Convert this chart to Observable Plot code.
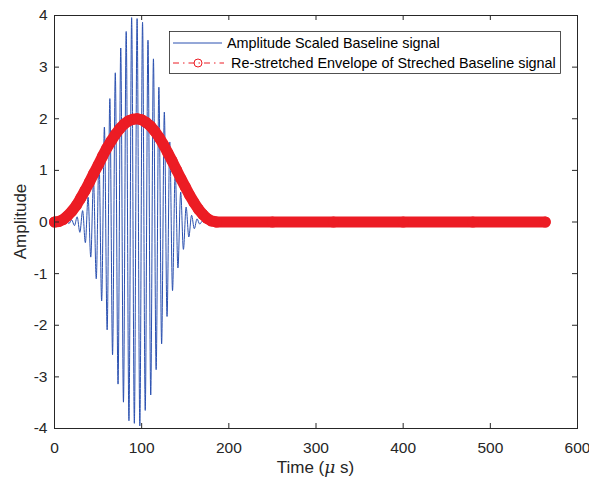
<!DOCTYPE html>
<html>
<head>
<meta charset="utf-8">
<script src="https://cdn.jsdelivr.net/npm/d3@7"></script>
<script src="https://cdn.jsdelivr.net/npm/@observablehq/plot@0.6"></script>
<style>
  html, body { margin: 0; padding: 0; background: #ffffff; }
  #chart { width: 589px; height: 480px; }
</style>
</head>
<body>
<div id="chart"></div>
<script>
// ---- Data ----
const xTicks = [0, 100, 200, 300, 400, 500, 600];
const yTicks = [-4, -3, -2, -1, 0, 1, 2, 3, 4];

// Amplitude Scaled Baseline signal: successive extrema (µs, amplitude)
const signalTime = [0, 10.4, 13.5, 16.6, 19.75, 22.9, 26, 29.1, 32.25, 35.4, 38.5, 41.6, 44.75, 47.9, 51, 54.1,
  57.25, 60.4, 63.5, 66.6, 69.75, 72.9, 76, 79.1, 82.25, 85.4, 88.5, 91.6, 94.75, 97.9, 101, 104.1,
  107.25, 110.4, 113.5, 116.6, 119.75, 122.9, 126, 129.1, 132.25, 135.4, 138.5, 141.6, 144.75, 147.9,
  151, 154.1, 157.25, 160.4, 163.5, 166.6, 169.75, 172.9, 176, 182, 563];
const signalAmp = [0, 0, 0.02, -0.03, 0.04, -0.07, 0.10, -0.20, 0.22, -0.40, 0.48, -0.68, 0.80, -1.10, 1.26, -1.53,
  1.84, -2.09, 2.39, -2.57, 2.89, -3.14, 3.37, -3.49, 3.69, -3.85, 3.96, -3.90, 3.94, -3.95, 3.87, -3.65,
  3.52, -3.35, 3.16, -2.86, 2.61, -2.36, 2.13, -1.83, 1.55, -1.33, 1.00, -0.89, 0.58, -0.53,
  0.29, -0.29, 0.13, -0.13, 0.06, -0.04, 0.02, -0.01, 0.01, 0, 0];

// Re-stretched Envelope of Streched Baseline signal (µs, amplitude)
const envTime = [0, 5, 10, 15, 20, 25, 30, 35, 40, 45, 50, 55, 60, 65, 70, 75, 80, 85, 90, 95,
  100, 105, 110, 115, 120, 125, 130, 135, 140, 145, 150, 155, 160, 165, 170, 175, 180, 186,
  250, 320, 400, 480, 563];
const envAmp = [0, 0.01, 0.05, 0.12, 0.21, 0.32, 0.46, 0.61, 0.77, 0.94, 1.10, 1.27, 1.43, 1.57, 1.70, 1.81, 1.90, 1.96, 1.99, 2.00,
  1.98, 1.93, 1.86, 1.76, 1.64, 1.50, 1.34, 1.18, 1.01, 0.84, 0.68, 0.52, 0.38, 0.25, 0.15, 0.07, 0.02, 0,
  0, 0, 0, 0, 0];

const seriesNames = ["Amplitude Scaled Baseline signal", "Re-stretched Envelope of Streched Baseline signal"];

const signal = signalTime.map((t, i) => ({t, a: signalAmp[i]}));
const envelope = envTime.map((t, i) => ({t, a: envAmp[i]}));

const BLUE = "#2a50b0";
const RED = "#ec1c24";
const INK = "#262626";
const W = 589, H = 480;
const mL = 54, mR = 12, mT = 15, mB = 52;
const frameW = W - mL - mR, frameH = H - mT - mB;
const TICK = 5;

const svg = Plot.plot({
  width: W, height: H,
  marginLeft: mL, marginRight: mR, marginTop: mT, marginBottom: mB,
  style: {fontFamily: "'Liberation Sans', Arial, Helvetica, sans-serif", fontSize: "15.5px", color: INK, background: "#ffffff"},
  x: {domain: [0, 600], ticks: xTicks},
  y: {domain: [-4, 4], ticks: yTicks},
  marks: [
    Plot.line(signal, {x: "t", y: "a", stroke: BLUE, strokeWidth: 1, curve: "monotone-x"}),
    Plot.line(envelope, {x: "t", y: "a", stroke: RED, strokeWidth: 11, strokeLinecap: "round", strokeLinejoin: "round"}),
    Plot.dot(envelope, {x: "t", y: "a", r: 5.5, fill: RED, stroke: RED, strokeWidth: 0}),
    Plot.frame({stroke: INK, strokeWidth: 1}),
    Plot.tickX(xTicks, {x: d => d, stroke: INK, insetTop: frameH - TICK}),
    Plot.tickX(xTicks, {x: d => d, stroke: INK, insetBottom: frameH - TICK}),
    Plot.tickY(yTicks, {y: d => d, stroke: INK, insetRight: frameW - TICK}),
    Plot.tickY(yTicks, {y: d => d, stroke: INK, insetLeft: frameW - TICK}),
    Plot.axisX({ticks: xTicks, tickSize: 0, tickPadding: 13, label: null, tickFormat: d => String(d)}),
    Plot.axisY({ticks: yTicks, tickSize: 0, tickPadding: 7, label: null, tickFormat: d => String(d)})
  ]
});

document.getElementById("chart").appendChild(svg);

// Axis titles
const s = d3.select(svg);
const xl = s.append("text")
  .attr("x", mL + frameW / 2).attr("y", 473)
  .attr("text-anchor", "middle")
  .attr("fill", INK)
  .style("font-size", "17px");
xl.append("tspan").text("Time (");
xl.append("tspan").attr("font-style", "italic").attr("font-family", "'DejaVu Serif', 'Liberation Serif', serif").text("\u03bc");
xl.append("tspan").text(" s)");

s.append("text")
  .attr("transform", `translate(26,${mT + frameH / 2}) rotate(-90)`)
  .attr("text-anchor", "middle")
  .attr("fill", INK)
  .style("font-size", "17px")
  .text("Amplitude");

// Legend
const lg = s.append("g").style("font-size", "14.4px").attr("text-anchor", "start");
lg.append("rect").attr("x", 169.5).attr("y", 31.5).attr("width", 391).attr("height", 42)
  .attr("fill", "#ffffff").attr("stroke", INK).attr("stroke-width", 0.8);
lg.append("line").attr("x1", 173).attr("x2", 222).attr("y1", 43).attr("y2", 43)
  .attr("stroke", BLUE).attr("stroke-width", 1);
lg.append("text").attr("x", 227).attr("y", 43).attr("dy", "0.35em").attr("text-anchor", "start").attr("fill", "#000").text(seriesNames[0]);
lg.append("line").attr("x1", 173).attr("x2", 224).attr("y1", 63).attr("y2", 63)
  .attr("stroke", RED).attr("stroke-width", 1).attr("stroke-dasharray", "6,4,1.5,4");
lg.append("circle").attr("cx", 198).attr("cy", 63).attr("r", 4)
  .attr("fill", "none").attr("stroke", RED).attr("stroke-width", 1);
lg.append("text").attr("x", 231).attr("y", 63).attr("dy", "0.35em").attr("text-anchor", "start").attr("fill", "#000").text(seriesNames[1]);
</script>
</body>
</html>
